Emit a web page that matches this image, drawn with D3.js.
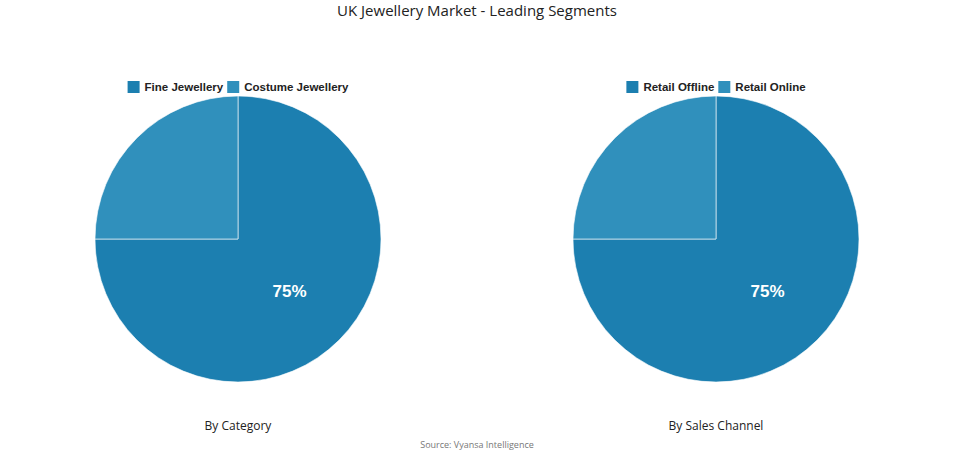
<!DOCTYPE html>
<html><head><meta charset="utf-8">
<script src="https://cdn.jsdelivr.net/npm/d3@7"></script>
<style>body{margin:0;background:#fff}</style>
</head><body>
<svg id="chart" width="955" height="454"></svg>
<script>
// data
var titles = ["By Category", "By Sales Channel"];
var labels = [["Fine Jewellery", "Costume Jewellery"], ["Retail Offline", "Retail Online"]];
var shares = [[75, 25], [75, 25]];
var colors = ["#1c7fb0", "#3090bc"];

var svg = d3.select("#chart");
var r = 143, cy = 239;
var centers = [238, 716];

svg.append("text").attr("x", 477).attr("y", 16).attr("text-anchor", "middle")
    .attr("font-family", "Open Sans").attr("font-size", 15).attr("fill", "#222")
    .text("UK Jewellery Market - Leading Segments");
svg.append("text").attr("x", 477).attr("y", 448).attr("text-anchor", "middle")
    .attr("font-family", "Open Sans").attr("font-size", 9).attr("fill", "#777")
    .text("Source: Vyansa Intelligence");

var pie = d3.pie().sort(null).value(function (d) { return d; });
var arc = d3.arc().innerRadius(0).outerRadius(r);
var labelArc = d3.arc().innerRadius(r * 0.51).outerRadius(r * 0.51);

for (var i = 0; i < 2; i++) {
    var g = svg.append("g").attr("transform", "translate(" + centers[i] + "," + cy + ")");
    var arcs = pie(shares[i]);
    g.selectAll("path").data(arcs).enter().append("path")
        .attr("d", arc).attr("fill", function (d, j) { return colors[j]; })
        .attr("stroke", "#fff").attr("stroke-width", 1).attr("stroke-opacity", 0.6);
    g.append("text").datum(arcs[0])
        .attr("transform", function (d) { return "translate(" + labelArc.centroid(d) + ")"; })
        .attr("text-anchor", "middle").attr("dy", "0.35em")
        .attr("font-family", "Liberation Sans").attr("font-weight", "bold")
        .attr("font-size", 17).attr("fill", "#fff")
        .text(function (d) { return d.data + "%"; });

    svg.append("text").attr("x", centers[i]).attr("y", 430).attr("text-anchor", "middle")
        .attr("font-family", "Open Sans").attr("font-size", 12).attr("fill", "#222")
        .text(titles[i]);

    // legend
    var lg = svg.append("g");
    var x = 0;
    labels[i].forEach(function (t, j) {
        var it = lg.append("g").attr("transform", "translate(" + x + ",0)");
        it.append("rect").attr("width", 12).attr("height", 12).attr("y", -10).attr("fill", colors[j]);
        var tx = it.append("text").attr("x", 17).attr("font-family", "Liberation Sans")
            .attr("font-weight", "bold").attr("font-size", 11.5).attr("fill", "#222").text(t);
        x += 17 + tx.node().getComputedTextLength() + 4;
    });
    lg.attr("transform", "translate(" + (centers[i] - (x - 4) / 2) + ",91)");
}
</script>
</body></html>
